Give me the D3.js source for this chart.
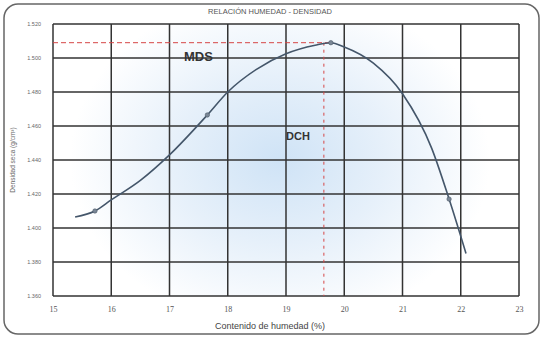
<!DOCTYPE html>
<html><head><meta charset="utf-8">
<script src="https://cdn.jsdelivr.net/npm/d3@7"></script>
<style>body{margin:0;background:#fff}svg{display:block}</style>
</head><body>
<svg id="c" width="543" height="338"></svg>
<script>
const title = "RELACIÓN HUMEDAD - DENSIDAD";
const xLabel = "Contenido de humedad (%)";
const yLabel = "Densidad seca (g/cm³)";
const xTicks = [15,16,17,18,19,20,21,22,23];
const yTicks = [1.360,1.380,1.400,1.420,1.440,1.460,1.480,1.500,1.520];
const curveX = [15.38,15.72,16.0,16.5,17.0,17.65,18.0,18.5,19.0,19.5,19.77,20.0,20.5,21.0,21.5,21.8,22.09];
const curveY = [1.4065,1.410,1.4165,1.428,1.443,1.4665,1.480,1.4935,1.5025,1.5075,1.509,1.5065,1.497,1.479,1.447,1.417,1.385];
const pointX = [15.72,17.65,19.77,21.8];
const pointY = [1.410,1.4665,1.509,1.417];
const mds = 1.509, dch = 19.65;

const svg = d3.select("#c");
const m = {l:53, r:519, t:24, b:296};
const x = d3.scaleLinear().domain([15,23]).range([m.l,m.r]);
const y = d3.scaleLinear().domain([1.36,1.52]).range([m.b,m.t]);

const defs = svg.append("defs");
const rg = defs.append("radialGradient").attr("id","glow").attr("gradientUnits","userSpaceOnUse")
  .attr("cx",280).attr("cy",160).attr("r",210).attr("gradientTransform","translate(280,160) scale(1,0.8) translate(-280,-160)");
rg.append("stop").attr("offset","0%").attr("stop-color","#cfe3f6");
rg.append("stop").attr("offset","50%").attr("stop-color","#e6f0fa");
rg.append("stop").attr("offset","100%").attr("stop-color","#ffffff");

svg.append("rect").attr("x",4).attr("y",4).attr("width",535).attr("height",330).attr("rx",14)
  .attr("fill","#fff").attr("stroke","#666").attr("stroke-width",1.5);

svg.append("rect").attr("x",m.l).attr("y",m.t).attr("width",m.r-m.l).attr("height",m.b-m.t).attr("fill","url(#glow)");

svg.append("text").attr("x",270).attr("y",14).attr("text-anchor","middle")
  .attr("font-family","Liberation Sans Narrow, Liberation Sans, sans-serif").attr("font-size",7.5).attr("fill","#555").text(title);

const g = svg.append("g");
g.selectAll("line.h").data(yTicks).join("line").attr("x1",m.l).attr("x2",m.r)
  .attr("y1",d=>y(d)).attr("y2",d=>y(d)).attr("stroke","#333").attr("stroke-width",1.5);
g.selectAll("line.v").data(xTicks).join("line").attr("y1",m.t).attr("y2",m.b)
  .attr("x1",d=>x(d)).attr("x2",d=>x(d)).attr("stroke","#333").attr("stroke-width",1.5);

const ax = d3.axisBottom(x).tickValues(xTicks).tickSize(0).tickPadding(10).tickFormat(d3.format("d"));
const axg = svg.append("g").attr("transform",`translate(0,${m.b})`).call(ax);
axg.select(".domain").remove();
axg.selectAll("text").attr("font-family","Liberation Serif, serif").attr("font-size",8).attr("fill","#555");
const ay = d3.axisLeft(y).tickValues(yTicks).tickSize(0).tickPadding(12).tickFormat(d=>d3.format(".3f")(d));
const ayg = svg.append("g").attr("transform",`translate(${m.l},0)`).call(ay);
ayg.select(".domain").remove();
ayg.selectAll("text").attr("font-family","Liberation Sans Narrow, Liberation Sans, sans-serif").attr("font-size",5.5).attr("fill","#666");

svg.append("text").attr("x",270).attr("y",329).attr("text-anchor","middle")
  .attr("font-family","Liberation Sans, sans-serif").attr("font-size",9).attr("fill","#444").text(xLabel);
svg.append("text").attr("transform","translate(15,160) rotate(-90)").attr("text-anchor","middle")
  .attr("font-family","Liberation Sans Narrow, Liberation Sans, sans-serif").attr("font-size",6.5).attr("fill","#666").text(yLabel);

svg.append("line").attr("x1",m.l).attr("x2",x(19.77)).attr("y1",y(mds)).attr("y2",y(mds))
  .attr("stroke","#d64545").attr("stroke-width",1).attr("stroke-dasharray","5,3");
svg.append("line").attr("x1",x(dch)).attr("x2",x(dch)).attr("y1",y(mds)).attr("y2",m.b)
  .attr("stroke","#d64545").attr("stroke-width",1).attr("stroke-dasharray","3,4");

const pts = curveX.map((d,i)=>[d,curveY[i]]);
svg.append("path").datum(pts).attr("fill","none").attr("stroke","#44566a").attr("stroke-width",1.6)
  .attr("d",d3.line().x(d=>x(d[0])).y(d=>y(d[1])).curve(d3.curveMonotoneX));

svg.selectAll("circle.p").data(pointX).join("circle").attr("cx",d=>x(d)).attr("cy",(d,i)=>y(pointY[i]))
  .attr("r",2.2).attr("fill","#7a8796").attr("stroke","#4a5766").attr("stroke-width",0.6);

svg.append("text").attr("x",184).attr("y",61).attr("font-family","Liberation Sans, sans-serif")
  .attr("font-size",13).attr("font-weight","bold").attr("fill","#333").text("MDS");
svg.append("text").attr("x",286).attr("y",140).attr("font-family","Liberation Sans, sans-serif")
  .attr("font-size",11).attr("font-weight","bold").attr("fill","#333").text("DCH");
</script>
</body></html>
